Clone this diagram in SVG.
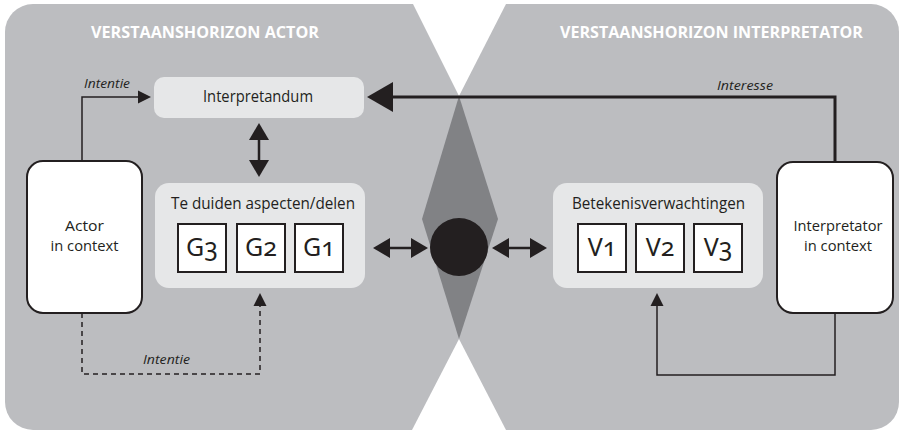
<svg xmlns="http://www.w3.org/2000/svg" width="902" height="434" viewBox="0 0 902 434">
<style>
.panel{fill:#bcbdc0}
.light{fill:#e6e7e8}
.box{fill:#fff;stroke:#231f20;stroke-width:2}
.title{font-family:"Open Sans","Liberation Sans",sans-serif;font-weight:bold;font-size:16.5px;fill:#fff}
.lbl{font-family:"Open Sans","Liberation Sans",sans-serif;font-size:16px;fill:#231f20;text-anchor:middle}
.ctx{font-family:"Open Sans","Liberation Sans",sans-serif;font-size:15px;fill:#231f20;text-anchor:middle}
.it{font-family:"Open Sans","Liberation Sans",sans-serif;font-style:italic;font-size:13px;fill:#231f20}
.big{font-family:"Noto Sans","Open Sans",sans-serif;font-size:25px;fill:#231f20;text-anchor:middle;font-variant-numeric:oldstyle-nums;font-feature-settings:"onum" 1}
.thin{fill:none;stroke:#231f20;stroke-width:1.5}
.med{fill:none;stroke:#231f20;stroke-width:2.5}
.thick{fill:none;stroke:#231f20;stroke-width:3}
</style>
<defs>
<marker id="ahS" markerUnits="userSpaceOnUse" markerWidth="1" markerHeight="1" refX="0" refY="0" orient="auto" overflow="visible"><path d="M0,-6.5 L13,0 L0,6.5 Z" fill="#231f20"/></marker>
<marker id="ahM" markerUnits="userSpaceOnUse" markerWidth="1" markerHeight="1" refX="0" refY="0" orient="auto-start-reverse" overflow="visible"><path d="M0,-10 L17,0 L0,10 Z" fill="#231f20"/></marker>
<marker id="ahL" markerUnits="userSpaceOnUse" markerWidth="1" markerHeight="1" refX="0" refY="0" orient="auto" overflow="visible"><path d="M0,-15 L26,0 L0,15 Z" fill="#231f20"/></marker>
</defs>
<g id="panel-actor">
<path class="panel" d="M33,4 L413,4 L459,96 L498,219 L459,339 L412,430 L33,430 A28,28 0 0 1 5,402 L5,32 A28,28 0 0 1 33,4 Z"/>
<text class="title" x="91" y="38" textLength="228" lengthAdjust="spacingAndGlyphs">VERSTAANSHORIZON ACTOR</text>
</g>
<g id="panel-interpretator">
<path class="panel" d="M506,4 L871,4 A28,28 0 0 1 899,32 L899,402 A28,28 0 0 1 871,430 L506,430 L459,339 L422,219 L459,96 Z"/>
<text class="title" x="560" y="38" textLength="303" lengthAdjust="spacingAndGlyphs">VERSTAANSHORIZON INTERPRETATOR</text>
</g>
<g id="overlap">
<polygon points="459,96 498,219 459,339 422,219" fill="#818285"/>
</g>
<g id="interpretandum">
<rect class="light" x="154" y="77" width="210" height="41" rx="10"/>
<text class="lbl" x="258" y="102" textLength="110" lengthAdjust="spacingAndGlyphs">Interpretandum</text>
</g>
<g id="actor">
<rect class="box" x="27" y="161" width="115" height="152" rx="16"/>
<text class="ctx" x="84.5" y="231" textLength="39" lengthAdjust="spacingAndGlyphs">Actor</text>
<text class="ctx" x="84.5" y="251" textLength="68" lengthAdjust="spacingAndGlyphs">in context</text>
</g>
<g id="interpretator">
<rect class="box" x="777" y="162" width="116" height="151" rx="16"/>
<text class="ctx" x="838" y="231" textLength="89" lengthAdjust="spacingAndGlyphs">Interpretator</text>
<text class="ctx" x="838" y="251" textLength="68" lengthAdjust="spacingAndGlyphs">in context</text>
</g>
<g id="aspecten">
<rect class="light" x="155" y="183" width="210" height="105" rx="14"/>
<text class="lbl" x="263" y="209" textLength="184" lengthAdjust="spacingAndGlyphs">Te duiden aspecten/delen</text>
<rect class="box" x="178" y="224" width="48" height="48"/>
<text class="big" x="202" y="256">G3</text>
<rect class="box" x="237" y="224" width="48" height="48"/>
<text class="big" x="261" y="256">G2</text>
<rect class="box" x="295" y="224" width="48" height="48"/>
<text class="big" x="319" y="256">G1</text>
</g>
<g id="verwachtingen">
<rect class="light" x="553" y="183" width="210" height="105" rx="14"/>
<text class="lbl" x="658.5" y="209" textLength="173" lengthAdjust="spacingAndGlyphs">Betekenisverwachtingen</text>
<rect class="box" x="578" y="224" width="48" height="48"/>
<text class="big" x="602" y="256">V1</text>
<rect class="box" x="636" y="224" width="48" height="48"/>
<text class="big" x="660" y="256">V2</text>
<rect class="box" x="694" y="224" width="48" height="48"/>
<text class="big" x="718" y="256">V3</text>
</g>
<g id="fusion">
<circle cx="459" cy="247" r="29" fill="#231f20"/>
</g>
<g id="connectors">
<path class="thin" d="M82,161 V97 H138" marker-end="url(#ahS)"/>
<text class="it" x="84" y="88" textLength="46" lengthAdjust="spacingAndGlyphs">Intentie</text>
<path class="thick" d="M835,162 V97 H393" marker-end="url(#ahL)"/>
<text class="it" x="717" y="90" textLength="56" lengthAdjust="spacingAndGlyphs">Interesse</text>
<path class="med" d="M259,140 V160" marker-start="url(#ahM)" marker-end="url(#ahM)"/>
<path class="med" d="M390,248 H411" marker-start="url(#ahM)" marker-end="url(#ahM)"/>
<path class="med" d="M509,248 H530" marker-start="url(#ahM)" marker-end="url(#ahM)"/>
<path class="thin" d="M835,313 V375 H657 V306" marker-end="url(#ahS)"/>
<path class="thin" d="M82,313 V374 H260 V306" stroke-dasharray="5 4" marker-end="url(#ahS)"/>
<text class="it" x="143" y="364" textLength="47" lengthAdjust="spacingAndGlyphs">Intentie</text>
</g>
</svg>
